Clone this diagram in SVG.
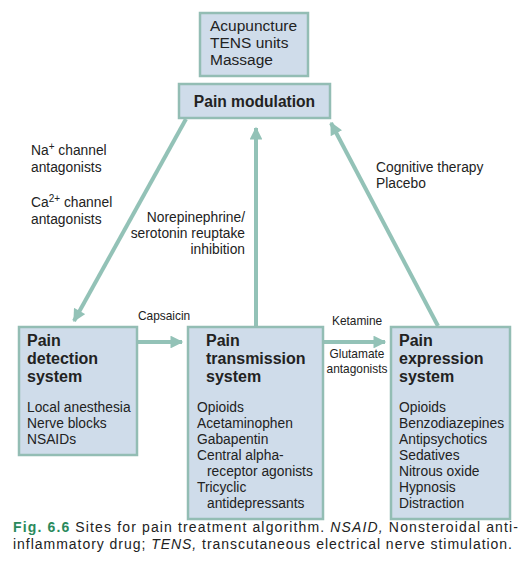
<svg xmlns="http://www.w3.org/2000/svg" width="530" height="576" viewBox="0 0 530 576">
<style>
.box{fill:#cfdcea;stroke:#93bdb4;stroke-width:2.5}
.t{font-family:"Liberation Sans",Arial,sans-serif;fill:#222}
.b{font-weight:bold;font-size:16px}
.i{font-size:13.8px}
.lb{font-size:13.8px}
.sm{font-size:11.9px}
.ar{stroke:#93c2b7;stroke-width:4;fill:none}
</style>
<defs>
<marker id="ah" viewBox="0 0 10 10" refX="9" refY="5" markerWidth="3.4" markerHeight="3.2" orient="auto" markerUnits="strokeWidth">
<path d="M0,0 L10,5 L0,10 z" fill="#93c2b7"/>
</marker>
</defs>
<rect width="530" height="576" fill="#fff"/>
<g id="connectors">
<line class="ar" x1="186" y1="119" x2="74" y2="321" marker-end="url(#ah)"/>
<line class="ar" x1="256" y1="326" x2="256" y2="128" marker-end="url(#ah)"/>
<line class="ar" x1="438" y1="326" x2="331" y2="123" marker-end="url(#ah)"/>
<line class="ar" x1="137" y1="342" x2="182" y2="342" marker-end="url(#ah)"/>
<line class="ar" x1="323" y1="342" x2="385" y2="342" marker-end="url(#ah)"/>
</g>
<g id="therapies">
<rect class="box" x="200" y="13" width="108" height="63"/>
<text class="t" font-size="15.5"><tspan x="210" y="31">Acupuncture</tspan><tspan x="210" y="48">TENS units</tspan><tspan x="210" y="65">Massage</tspan></text>
</g>
<g id="modulation">
<rect class="box" x="179" y="84" width="151" height="34"/>
<text class="t" font-weight="bold" font-size="15.6" x="254.5" y="107" text-anchor="middle">Pain modulation</text>
</g>
<g id="detection">
<rect class="box" x="19" y="327" width="118" height="128"/>
<text class="t b"><tspan x="27" y="346">Pain</tspan><tspan x="27" y="364">detection</tspan><tspan x="27" y="382">system</tspan></text>
<text class="t i"><tspan x="27" y="412">Local anesthesia</tspan><tspan x="27" y="428">Nerve blocks</tspan><tspan x="27" y="444">NSAIDs</tspan></text>
</g>
<g id="transmission">
<rect class="box" x="188" y="327" width="135" height="192"/>
<text class="t b"><tspan x="206" y="346">Pain</tspan><tspan x="206" y="364">transmission</tspan><tspan x="206" y="382">system</tspan></text>
<text class="t i"><tspan x="197" y="412">Opioids</tspan><tspan x="197" y="428">Acetaminophen</tspan><tspan x="197" y="444">Gabapentin</tspan><tspan x="197" y="460">Central alpha-</tspan><tspan x="207" y="476">receptor agonists</tspan><tspan x="197" y="492">Tricyclic</tspan><tspan x="207" y="508">antidepressants</tspan></text>
</g>
<g id="expression">
<rect class="box" x="391" y="327" width="119" height="192"/>
<text class="t b"><tspan x="399" y="346">Pain</tspan><tspan x="399" y="364">expression</tspan><tspan x="399" y="382">system</tspan></text>
<text class="t i"><tspan x="399" y="412">Opioids</tspan><tspan x="399" y="428">Benzodiazepines</tspan><tspan x="399" y="444">Antipsychotics</tspan><tspan x="399" y="460">Sedatives</tspan><tspan x="399" y="476">Nitrous oxide</tspan><tspan x="399" y="492">Hypnosis</tspan><tspan x="399" y="508">Distraction</tspan></text>
</g>
<g id="labels">
<text class="t lb" x="31" y="155">Na<tspan dy="-5" font-size="10">+</tspan><tspan dy="5"> channel</tspan></text>
<text class="t lb" x="31" y="172">antagonists</text>
<text class="t lb" x="31" y="207">Ca<tspan dy="-5" font-size="10">2+</tspan><tspan dy="5"> channel</tspan></text>
<text class="t lb" x="31" y="224">antagonists</text>
<text class="t lb" text-anchor="end"><tspan x="245" y="222">Norepinephrine/</tspan><tspan x="245" y="238">serotonin reuptake</tspan><tspan x="245" y="254">inhibition</tspan></text>
<text class="t lb"><tspan x="376" y="172">Cognitive therapy</tspan><tspan x="376" y="188">Placebo</tspan></text>
<text class="t sm" x="138" y="320">Capsaicin</text>
<text class="t sm" x="332" y="325">Ketamine</text>
<text class="t sm" text-anchor="middle"><tspan x="357" y="358">Glutamate</tspan><tspan x="357" y="373">antagonists</tspan></text>
</g>
<g id="caption">
<text class="t" font-size="14" x="13" y="532" textLength="505" lengthAdjust="spacing"><tspan font-weight="bold" fill="#2a8a5c">Fig. 6.6</tspan> Sites for pain treatment algorithm. <tspan font-style="italic">NSAID,</tspan> Nonsteroidal anti-</text>
<text class="t" font-size="14" x="13" y="549" textLength="499" lengthAdjust="spacing">inflammatory drug; <tspan font-style="italic">TENS,</tspan> transcutaneous electrical nerve stimulation.</text>
</g>
</svg>
